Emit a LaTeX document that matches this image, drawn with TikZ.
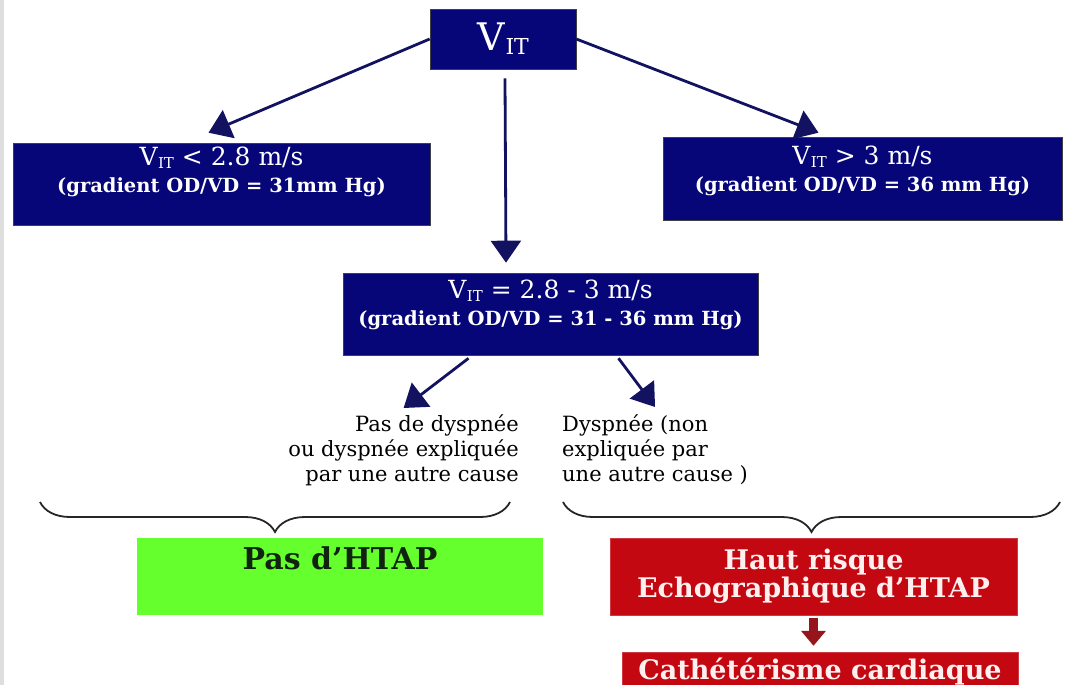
\documentclass[tikz,border=0pt]{standalone}
\usepackage{fontspec}
\setmainfont{DejaVu Serif}
\usepackage{tikz}
\usetikzlibrary{arrows.meta,positioning,decorations.pathreplacing,calc}
\definecolor{navy}{RGB}{6,6,120}
\definecolor{arrownavy}{RGB}{18,18,96}
\definecolor{leafgreen}{RGB}{100,255,45}
\definecolor{alarmred}{RGB}{196,8,18}
\definecolor{darkred}{RGB}{150,20,28}
\definecolor{htapdark}{RGB}{15,35,15}
\newcommand{\fsz}[1]{\fontsize{#1}{#1}\selectfont}
\newcommand{\vitsym}[1]{V\kern0.5pt\raisebox{-3pt}{\fsz{#1}IT}}

\begin{document}
\begin{tikzpicture}[x=1pt,y=-1pt,
  navybox/.style={draw=black!75,fill=navy,line width=0.6pt,inner sep=0pt},
  boxtext/.style={text=white,align=center,inner sep=0pt,font=\fontsize{19.5}{27}\selectfont},
  flow/.style={arrownavy,line width=2.8pt,-{Triangle[length=22pt,width=30pt]}},
  note/.style={inner sep=0pt,font=\fontsize{21}{25}\selectfont},
  curlybrace/.style={decorate,decoration={brace,amplitude=30pt},line width=1.8pt,black!85},
  redbox/.style={fill=alarmred,draw=alarmred!80!white,text=white!94!red,inner sep=0pt}]
\useasboundingbox (0,0) rectangle (1066,685);
\clip (0,0) rectangle (1066,685);
\fill[black!13] (0,0) rectangle (4,685);

\node[navybox,minimum width=146,minimum height=60] (vit) at (503,39) {};
\node[boxtext] (vittxt) at (vit.center) {\fsz{38}V\kern1pt\raisebox{-4pt}{\fsz{22}IT}};

\node[navybox,minimum width=417,minimum height=82] (lo) at (221.5,184) {};
\node[boxtext] (lotxt) at ([yshift=12pt]lo.center) {{\fsz{25}\vitsym{15} < 2.8 m/s}\\{\bfseries (gradient OD/VD = 31mm Hg)}};

\node[navybox,minimum width=399,minimum height=83] (hi) at (862.5,178.5) {};
\node[boxtext] (hitxt) at ([yshift=8pt]hi.center) {{\fsz{25}\vitsym{15} > 3 m/s}\\{\bfseries (gradient OD/VD = 36 mm Hg)}};

\node[navybox,minimum width=415,minimum height=82] (mid) at (550.5,314) {};
\node[boxtext] (midtxt) at ([yshift=9pt]mid.center) {{\fsz{25}\vitsym{15} = 2.8 - 3 m/s}\\{\bfseries (gradient OD/VD = 31 - 36 mm Hg)}};

\draw[flow] (vit.west) -- ([xshift=-13pt,yshift=10pt]lo.north);
\draw[flow] (vit.east) -- ([xshift=-44pt,yshift=4pt]hi.north);
\draw[flow] ($(vit.south)+(2,9)$) -- ($(vit.south |- mid.north)+(3,-10)$);

\node[note,anchor=north east,align=right] (nod) at (519,415) {Pas de dyspnée\\ou dyspnée expliquée\\par une autre cause};
\node[note,anchor=north west,align=left] (dys) at (562,415) {Dyspnée (non\\expliquée par\\une autre cause )};

\draw[flow] ([xshift=-82pt,yshift=-3pt]mid.south) -- ([yshift=7pt]nod.north);
\draw[flow] ([xshift=68pt,yshift=-3pt]mid.south) -- ([yshift=8pt]dys.north);

\coordinate (bl) at (40,502);
\coordinate (br) at (510,502);
\coordinate (cl) at (563,502);
\coordinate (cr) at (1060,502);
\draw[curlybrace] (br) -- (bl);
\draw[curlybrace] (cr) -- (cl);

\node[fill=leafgreen,inner sep=0pt,minimum width=406,minimum height=77] (noh) at (340,576.5) {};
\node[inner sep=0pt,text=htapdark,font=\bfseries\fsz{30},below=9pt of noh.north] (nohtxt) {Pas d’HTAP};

\node[redbox,minimum width=407,minimum height=77,align=center,font=\bfseries\fontsize{27}{28}\selectfont] (risk) at (813.5,576.5) {Haut risque\\Echographique d’HTAP};
\node[redbox,minimum width=396,minimum height=40,font=\bfseries\fsz{27}] (cath) at (820,672) {Cathétérisme cardiaque};
\draw[darkred,line width=9pt,-{Triangle[length=15pt,width=24pt]},shorten <=3pt,shorten >=6pt] (risk.south) -- (risk.south |- cath.north);
\end{tikzpicture}
\end{document}
